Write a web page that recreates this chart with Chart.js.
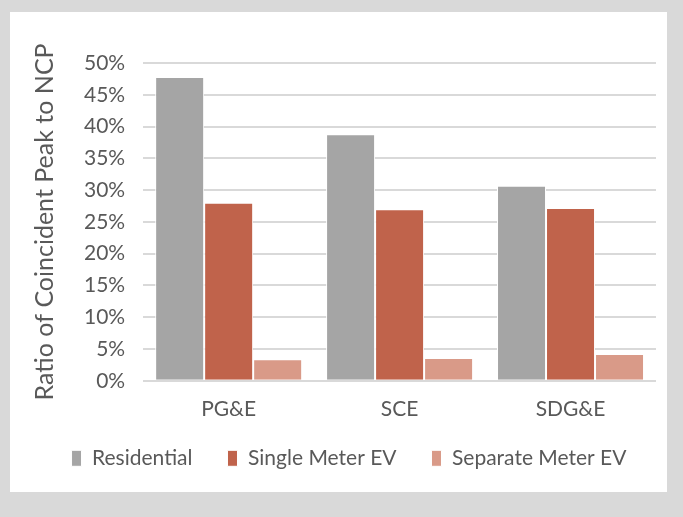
<!DOCTYPE html>
<html>
<head>
<meta charset="utf-8">
<script src="https://cdn.jsdelivr.net/npm/chart.js@4"></script>
<style>
  html, body { margin: 0; padding: 0; background: #d9d9d9; }
  #panel { position: absolute; left: 10px; top: 12px; width: 657px; height: 480px; background: #fff; }
</style>
</head>
<body>
<div id="panel"><canvas id="myChart" width="657" height="480"></canvas></div>
<script>
var categories = ['PG&E', 'SCE', 'SDG&E'];
var residential = [47.8, 38.8, 30.7];
var singleMeterEV = [28.0, 27.0, 27.2];
var separateMeterEV = [3.4, 3.6, 4.2];

Chart.defaults.font.family = 'Lato, "Open Sans", sans-serif';
Chart.defaults.color = '#595959';

// legend gets wide item spacing but a short height, sitting just under the axis labels
var legendTweak = {
    id: 'legendTweak',
    afterInit: function (chart) {
        var fit = chart.legend.fit;
        chart.legend.fit = function () {
            fit.call(this);
            this.height = 60;
        };
    },
    afterLayout: function (chart) {
        var lg = chart.legend;
        lg.left += 6;
        lg.right += 6;
        lg.top = chart.chartArea.bottom + 32;
        lg.bottom = lg.top + 60;
    }
};

var ctx = document.getElementById('myChart');
var myChart = new Chart(ctx, {
    type: 'bar',
    data: {
        labels: categories,
        datasets: [
            { label: 'Residential', data: residential, backgroundColor: '#a5a5a5' },
            { label: 'Single Meter EV', data: singleMeterEV, backgroundColor: '#c0634b' },
            { label: 'Separate Meter EV', data: separateMeterEV, backgroundColor: '#d99a88' }
        ]
    },
    options: {
        responsive: false,
        animation: false,
        layout: { padding: { left: 20, right: 11, top: 51, bottom: 2 } },
        datasets: {
            bar: { categoryPercentage: 0.86, barPercentage: 1, borderColor: '#fff', borderWidth: 1 }
        },
        scales: {
            x: {
                grid: { display: false },
                border: { display: false },
                ticks: { font: { size: 21 }, padding: 8 }
            },
            y: {
                min: 0, max: 50,
                ticks: { stepSize: 5, font: { size: 21 }, padding: 18, callback: function (v) { return v + '%'; } },
                grid: { color: '#d9d9d9', lineWidth: 2, drawTicks: false },
                border: { display: false },
                title: { display: true, text: 'Ratio of Coincident Peak to NCP', font: { size: 25 }, padding: { top: 0, bottom: 6 } }
            }
        },
        plugins: {
            legend: {
                position: 'bottom',
                labels: { boxWidth: 10, boxHeight: 16, padding: 35, font: { size: 21 } }
            },
            tooltip: { enabled: false }
        }
    },
    plugins: [legendTweak]
});
window.chart = myChart;
</script>
</body>
</html>
